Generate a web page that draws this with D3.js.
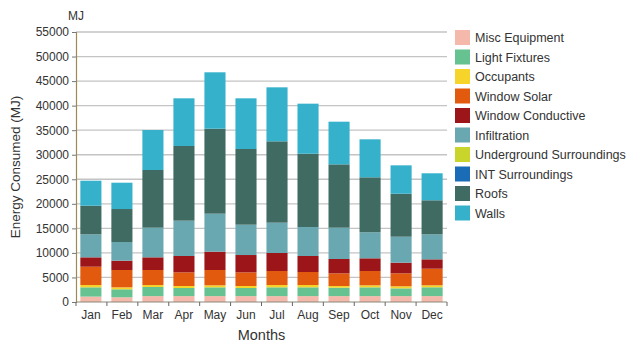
<!DOCTYPE html>
<html>
<head>
<meta charset="utf-8">
<script src="https://cdn.jsdelivr.net/npm/d3@7/dist/d3.min.js"></script>
<style>
  html, body { margin: 0; padding: 0; background: #fff; }
  svg { display: block; font-family: "Liberation Sans", Arial, sans-serif; }
</style>
</head>
<body>
<svg id="chart" width="633" height="345"></svg>
<script>
// Monthly energy consumption by component (MJ)
const months = ["Jan","Feb","Mar","Apr","May","Jun","Jul","Aug","Sep","Oct","Nov","Dec"];
const seriesNames = ["Misc Equipment","Light Fixtures","Occupants","Window Solar","Window Conductive",
  "Infiltration","Underground Surroundings","INT Surroundings","Roofs","Walls"];
const seriesColors = ["#f4b9aa","#66c290","#f6d42a","#e25a0e","#9c1619",
  "#6aa8b1","#c9d52b","#1a6cb6","#3f6b63","#36b1cc"];

const miscEquipment     = [1100, 960,1200,1200,1200,1200,1200,1200,1200,1200,1200,1200];
const lightFixtures     = [1890,1630,1860,1650,1790,1650,1790,1790,1720,1790,1580,1800];
const occupants         = [ 470, 400, 400, 410, 410, 410, 470, 470, 340, 410, 420, 400];
const windowSolar       = [3730,3530,3060,2780,3120,2780,2850,2650,2580,2910,2640,3380];
const windowConductive  = [1910,1900,2580,3330,3730,3530,3670,3260,2920,2590,2170,1910];
const infiltration      = [4690,3800,6040,7200,7740,6180,6180,5910,6380,5300,5290,5100];
const underground       = [   0,   0,   0,   0,   0,   0,   0,   0,   0,   0,   0,   0];
const intSurroundings   = [   0,   0,   0,   0,   0,   0,   0,   0,   0,   0,   0,   0];
const roofs             = [5830,6720,11750,15210,17310,15420,16570,14930,12900,11200,8760,6930];
const walls             = [5090,5360,8150,9710,11490,10320,11000,10190,8690,7740,5780,5500];

const yTicks = [0,5000,10000,15000,20000,25000,30000,35000,40000,45000,50000,55000];

const seriesValues = [miscEquipment, lightFixtures, occupants, windowSolar, windowConductive,
  infiltration, underground, intSurroundings, roofs, walls];

// Build row objects for d3.stack
const rows = months.map((m, i) => {
  const r = { month: m };
  seriesNames.forEach((s, k) => { r[s] = seriesValues[k][i]; });
  return r;
});

const svg = d3.select("#chart");
const margin = { left: 76, right: 186, top: 32, bottom: 43 };
const W = 633, H = 345;
const plotW = W - margin.left - margin.right;
const plotH = H - margin.top - margin.bottom;

const x = d3.scaleBand().domain(months).range([margin.left, margin.left + plotW])
  .paddingInner(0.32).paddingOuter(0.14);
const y = d3.scaleLinear().domain([0, 55000]).range([margin.top + plotH, margin.top]);
const color = d3.scaleOrdinal().domain(seriesNames).range(seriesColors);

// Horizontal gridlines
svg.append("g").selectAll("line").data(yTicks.slice(1)).join("line")
  .attr("x1", margin.left).attr("x2", margin.left + plotW)
  .attr("y1", d => y(d)).attr("y2", d => y(d))
  .attr("stroke", "#c4c4c4").attr("stroke-width", 1.3);

// Stacked bars
const stacked = d3.stack().keys(seriesNames)(rows);
svg.append("g").selectAll("g").data(stacked).join("g")
  .attr("fill", d => color(d.key))
  .selectAll("rect").data(d => d).join("rect")
  .attr("x", d => x(d.data.month))
  .attr("width", x.bandwidth())
  .attr("y", d => y(d[1]))
  .attr("height", d => Math.max(0, y(d[0]) - y(d[1])));

// Y axis
const yAxis = svg.append("g").attr("transform", `translate(${margin.left},0)`)
  .call(d3.axisLeft(y).tickValues(yTicks).tickFormat(d3.format("d")).tickSize(4).tickPadding(3));
yAxis.select(".domain").attr("stroke", "#9c8a55").attr("stroke-width", 1.2);
yAxis.selectAll(".tick line").attr("stroke", "#777");
yAxis.selectAll("text").attr("fill", "#333").style("font-size", "12px");

// X axis with ticks at category boundaries
const xAxis = svg.append("g").attr("transform", `translate(0,${margin.top + plotH})`);
xAxis.append("line").attr("x1", margin.left).attr("x2", margin.left + plotW)
  .attr("stroke", "#8a8a7a").attr("stroke-width", 1.2);
const edges = d3.range(months.length + 1).map(i => margin.left + i * plotW / months.length);
xAxis.selectAll("line.edge").data(edges).join("line").attr("class", "edge")
  .attr("x1", d => d).attr("x2", d => d).attr("y1", 0).attr("y2", 4)
  .attr("stroke", "#666");
xAxis.selectAll("text").data(months).join("text")
  .attr("x", d => x(d) + x.bandwidth() / 2).attr("y", 17)
  .attr("text-anchor", "middle").attr("fill", "#333").style("font-size", "12px")
  .text(d => d);

// Unit label and axis titles
svg.append("text").attr("x", 76).attr("y", 20).attr("text-anchor", "middle")
  .attr("fill", "#333").style("font-size", "12px").text("MJ");
svg.append("text").attr("transform", `translate(20,${margin.top + plotH / 2}) rotate(-90)`)
  .attr("text-anchor", "middle").attr("fill", "#333").style("font-size", "13.5px")
  .text("Energy Consumed (MJ)");
svg.append("text").attr("x", margin.left + plotW / 2).attr("y", 340)
  .attr("text-anchor", "middle").attr("fill", "#333").style("font-size", "14.5px").text("Months");

// Legend
const legend = svg.append("g").attr("transform", "translate(455,30)");
const item = legend.selectAll("g").data(seriesNames).join("g")
  .attr("transform", (d, i) => `translate(0,${i * 19.5})`);
item.append("rect").attr("width", 15).attr("height", 15).attr("fill", d => color(d));
item.append("text").attr("x", 20).attr("y", 12).attr("fill", "#333")
  .style("font-size", "12.5px").text(d => d);
</script>
</body>
</html>
